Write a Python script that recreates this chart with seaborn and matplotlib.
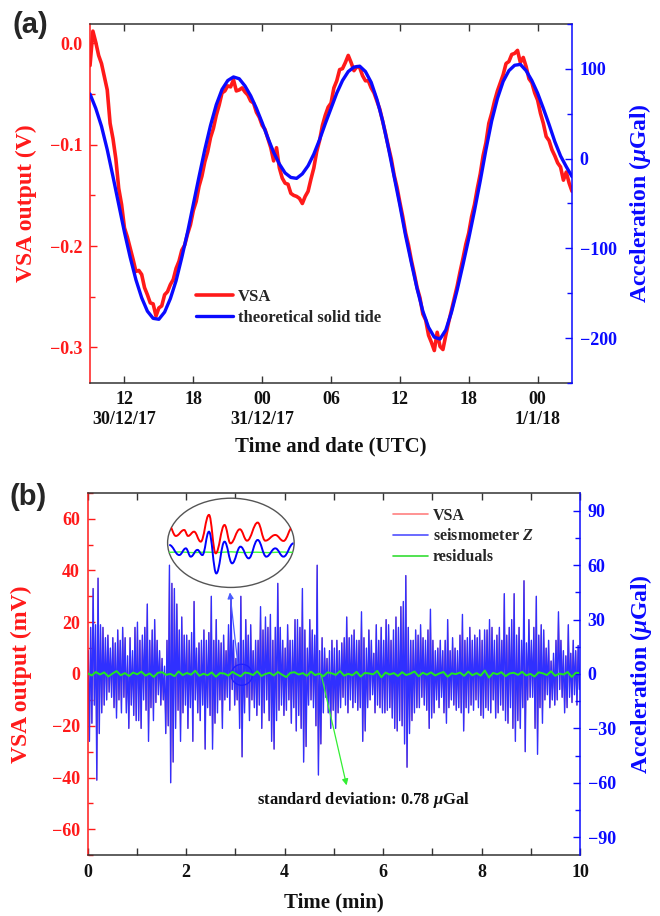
import numpy as np
import matplotlib
matplotlib.use('Agg')
import matplotlib.pyplot as plt
import seaborn as sns
from matplotlib.ticker import MultipleLocator, FuncFormatter
from matplotlib.patches import Ellipse, PathPatch
from matplotlib.path import Path
from matplotlib.lines import Line2D

# ---- (a) tide record, hours counted from 30/12/17 00:00 UTC ----
tide_hours = np.arange(9.0, 51.001, 0.5)
tide_ugal = [72, 56, 36, 10, -20, -51, -82, -110, -135, -155, -170, -178, -179,
             -171, -156, -136, -110, -82, -51, -20, 10, 37, 60, 77, 87, 91,
             89, 81, 70, 56, 40, 23, 7, -6, -16, -21, -22, -17, -8, 5, 21, 39,
             56, 73, 87, 97, 102, 103, 97, 85, 66, 42, 12, -20, -52, -86, -116,
             -145, -170, -188, -199, -201, -191, -171, -146, -118, -89, -58,
             -25, 10, 42, 67, 86, 98, 104, 105, 98, 87, 73, 56, 38, 19, 3, -9, -20]

vsa_hours = np.arange(9.0, 51.001, 0.25)
vsa_volt = [-0.022, 0.012, 0.001, -0.012, -0.020, -0.033, -0.046, -0.079, -0.094,
            -0.114, -0.143, -0.159, -0.182, -0.191, -0.202, -0.213, -0.225, -0.224,
            -0.228, -0.241, -0.248, -0.256, -0.257, -0.269, -0.261, -0.259, -0.248,
            -0.245, -0.238, -0.233, -0.222, -0.215, -0.204, -0.199, -0.188, -0.179,
            -0.165, -0.156, -0.141, -0.131, -0.117, -0.107, -0.093, -0.084, -0.071,
            -0.061, -0.049, -0.047, -0.042, -0.043, -0.036, -0.047, -0.046, -0.044,
            -0.048, -0.051, -0.057, -0.059, -0.068, -0.073, -0.081, -0.085, -0.094,
            -0.103, -0.116, -0.103, -0.123, -0.133, -0.138, -0.139, -0.148, -0.150,
            -0.151, -0.153, -0.158, -0.151, -0.146, -0.134, -0.123, -0.107, -0.096,
            -0.081, -0.071, -0.063, -0.059, -0.044, -0.037, -0.026, -0.025, -0.019,
            -0.012, -0.019, -0.027, -0.023, -0.024, -0.032, -0.037, -0.037, -0.044,
            -0.049, -0.057, -0.065, -0.077, -0.089, -0.102, -0.114, -0.130, -0.142,
            -0.157, -0.171, -0.187, -0.199, -0.214, -0.227, -0.241, -0.251, -0.267,
            -0.273, -0.288, -0.295, -0.303, -0.285, -0.299, -0.302, -0.288, -0.275,
            -0.263, -0.251, -0.239, -0.225, -0.212, -0.198, -0.187, -0.171, -0.159,
            -0.143, -0.129, -0.111, -0.098, -0.079, -0.069, -0.057, -0.047, -0.039,
            -0.031, -0.020, -0.018, -0.011, -0.010, -0.007, -0.019, -0.014, -0.023,
            -0.035, -0.039, -0.049, -0.056, -0.069, -0.079, -0.092, -0.096, -0.105,
            -0.111, -0.118, -0.122, -0.135, -0.127, -0.138, -0.146]

date_ticks = [12, 18, 24, 30, 36, 42, 48]
date_labels = ['12\n30/12/17', '18', '00\n31/12/17', '06', '12', '18', '00\n1/1/18']

# ---- (b) 10 min record, one peak and one trough per cycle (mV) ----
peaks_mv = [9, 18, 33, 19, 37, 19, 18, 14, 15, 10,
            14, 12, 17, 13, 18, 14, 7, 14, 9, 18,
            20, 13, 15, 18, 27, 13, 17, 21, 13, 9,
            6, 3, 13, 42, 35, 33, 27, 17, 22, 15,
            15, 13, 16, 28, 10, 12, 13, 17, 13, 16,
            30, 13, 21, 13, 12, 15, 9, 19, 29, 13,
            6, 12, 30, 13, 21, 15, 19, 9, 13, 13,
            26, 17, 22, 18, 23, 13, 18, 35, 18, 13,
            10, 19, 13, 13, 21, 21, 18, 33, 17, 10,
            21, 17, 15, 42, 9, 14, 10, 6, 9, 13,
            10, 13, 9, 12, 14, 22, 14, 15, 17, 13,
            13, 24, 14, 10, 17, 13, 8, 19, 13, 18,
            13, 21, 19, 13, 17, 22, 18, 26, 28, 38,
            18, 13, 13, 17, 15, 19, 14, 13, 17, 25,
            13, 9, 10, 13, 9, 13, 21, 9, 14, 10,
            9, 15, 23, 13, 14, 18, 13, 15, 14, 17,
            13, 17, 17, 21, 18, 13, 15, 18, 13, 31,
            15, 18, 21, 31, 15, 18, 13, 36, 12, 21,
            13, 18, 30, 15, 19, 17, 10, 13, 5, 8,
            13, 24, 13, 9, 7, 19, 8, 13, 9, 11]
troughs_mv = [-26, -19, -12, -41, -23, -15, -12, -10, -7, -9,
              -13, -17, -10, -15, -9, -15, -21, -12, -16, -18,
              -18, -21, -10, -14, -26, -13, -18, -11, -8, -12,
              -10, -23, -20, -42, -34, -21, -14, -26, -15, -12,
              -21, -13, -26, -10, -15, -18, -12, -29, -13, -16,
              -29, -19, -15, -10, -21, -10, -9, -14, -6, -12,
              -10, -21, -32, -15, -9, -18, -10, -13, -16, -12,
              -21, -15, -10, -18, -26, -29, -18, -14, -12, -16,
              -14, -10, -19, -13, -22, -16, -21, -34, -28, -12,
              -10, -13, -20, -39, -27, -15, -9, -15, -21, -14,
              -21, -15, -13, -9, -12, -15, -10, -13, -11, -14,
              -13, -26, -22, -13, -10, -8, -15, -12, -13, -15,
              -15, -14, -13, -17, -21, -22, -18, -20, -27, -36,
              -23, -18, -15, -13, -13, -9, -12, -14, -21, -17,
              -15, -10, -13, -9, -15, -19, -13, -10, -12, -14,
              -13, -15, -22, -13, -15, -12, -14, -10, -13, -16,
              -17, -13, -14, -15, -10, -17, -15, -12, -14, -18,
              -19, -13, -21, -26, -18, -21, -13, -30, -10, -9,
              -9, -21, -31, -13, -19, -10, -8, -13, -10, -12,
              -10, -6, -9, -15, -13, -9, -11, -8, -12, -6]
residuals_ugal = [0.4, -0.8, 1.1, -0.3, 0.9, -1.4, 0.2, 1.6, -0.7, 0.5, -1.1, 0.8,
                  -0.2, 1.3, -0.9, 0.3, -1.6, 0.7, 1.0, -0.5, 0.1, -1.2, 1.4, -0.6,
                  0.6, -0.4, 1.8, -1.0, 0.2, -0.7, 0.9, -1.5, 0.5, 0.3, -0.9, 1.2,
                  -0.2, -1.3, 0.8, 0.4, -0.6, 1.5, -1.1, 0.0, 0.7, -0.8, 1.1, -0.4,
                  -1.7, 0.6, 1.0, -0.3, 0.5, -1.0, 1.3, -0.6, 0.2, -1.2, 0.9, 0.4,
                  -0.5, 1.6, -0.9, 0.1, -0.7, 1.2, -1.4, 0.6, 0.3, -0.2, 1.7, -1.8,
                  0.8, -0.3, 0.5, -1.1, 1.0, -0.6, 0.2, 1.4, -1.3, 0.7, -0.4, 0.9,
                  -0.8, 0.3, 1.1, -1.5, 0.4, -0.1, 0.8, -1.0, 1.3, -0.7, 0.5, -0.9,
                  1.9, -2.0, 0.6, -0.2, 1.0, -1.2, 0.3, 0.7, -0.5, 1.2, -0.8, 0.1,
                  -1.4, 0.9, 0.4, -0.6, 1.5, -1.0, 0.2, -0.3, 1.1, -1.6, 0.7, 0.5]

# zoomed waveforms inside the ellipse (turning points, ellipse units 0..1)
inset_red_u = [0.013, 0.065, 0.131, 0.162, 0.209, 0.262, 0.327, 0.380, 0.450,
               0.497, 0.571, 0.628, 0.712, 0.772, 0.851, 0.916, 0.990]
inset_red_v = [0.690, 0.577, 0.644, 0.577, 0.625, 0.513, 0.813, 0.382, 0.700,
               0.494, 0.652, 0.524, 0.727, 0.524, 0.588, 0.521, 0.680]
inset_blue_u = [0.013, 0.092, 0.144, 0.183, 0.236, 0.275, 0.327, 0.385, 0.450,
                0.510, 0.576, 0.641, 0.712, 0.780, 0.851, 0.916, 0.995]
inset_blue_v = [0.476, 0.363, 0.438, 0.345, 0.421, 0.363, 0.625, 0.157, 0.513,
                0.270, 0.457, 0.326, 0.532, 0.345, 0.438, 0.345, 0.494]
inset_green_u = [0.0, 0.1, 0.2, 0.3, 0.4, 0.5, 0.6, 0.7, 0.8, 0.9, 1.0]
inset_green_v = [0.393, 0.398, 0.390, 0.396, 0.392, 0.399, 0.391, 0.395, 0.390, 0.397, 0.393]

RED = '#ff1a1a'
BLUE = '#0a0aff'
GREEN = '#22e622'
DARK = '#333333'

sns.set_style('ticks')
plt.rcParams['font.family'] = ['Liberation Serif', 'DejaVu Serif']
plt.rcParams['font.weight'] = 'bold'
plt.rcParams['axes.labelweight'] = 'bold'
plt.rcParams['mathtext.fontset'] = 'custom'
plt.rcParams['mathtext.rm'] = 'Liberation Serif:bold'
plt.rcParams['mathtext.it'] = 'Liberation Serif:italic:bold'
plt.rcParams['mathtext.bf'] = 'Liberation Serif:bold'


def minus(fmt):
    def f(v, pos):
        s = fmt.format(v)
        if s.startswith('-') and float(s) == 0:
            s = s[1:]
        return s.replace('-', '\u2212')
    return FuncFormatter(f)


def style_twin(ax_l, ax_r, lcol, rcol):
    for sp in ['top', 'bottom']:
        ax_l.spines[sp].set_color(DARK)
        ax_l.spines[sp].set_linewidth(1.1)
        ax_r.spines[sp].set_visible(False)
    ax_l.spines['left'].set_color(lcol)
    ax_l.spines['left'].set_linewidth(1.1)
    ax_l.spines['right'].set_visible(False)
    ax_r.spines['left'].set_visible(False)
    ax_r.spines['right'].set_color(rcol)
    ax_r.spines['right'].set_linewidth(1.1)
    ax_l.tick_params(axis='y', which='both', direction='in', colors=lcol,
                     labelsize=13, pad=5.5, right=False)
    ax_r.tick_params(axis='y', which='both', direction='in', colors=rcol,
                     labelsize=13, pad=5.5)
    ax_l.tick_params(axis='x', which='both', direction='in', top=True,
                     colors=DARK, labelcolor='#111111', labelsize=13, pad=6)
    for a in (ax_l, ax_r):
        a.tick_params(which='major', length=5, width=1)
        a.tick_params(which='minor', length=3.5, width=1)


fig = plt.figure(figsize=(6.6, 9.16), dpi=100)

# ---------------- panel (a) ----------------
ax1 = fig.add_axes([0.1364, 0.5819, 0.7303, 0.3919])
ax2 = ax1.twinx()
sns.lineplot(x=vsa_hours, y=vsa_volt, ax=ax1, color=RED, linewidth=2.6,
             estimator=None, sort=False, legend=False)
sns.lineplot(x=tide_hours, y=tide_ugal, ax=ax2, color=BLUE, linewidth=2.4,
             estimator=None, sort=False, legend=False)
ax1.set_xlim(9, 51)
ax1.set_ylim(-0.335, 0.019)
ax2.set_ylim(-250, 150)
ax1.set_xticks(date_ticks, date_labels)
ax1.yaxis.set_major_locator(MultipleLocator(0.1))
ax1.yaxis.set_minor_locator(MultipleLocator(0.05))
ax1.yaxis.set_major_formatter(minus('{:.1f}'))
ax2.yaxis.set_major_locator(MultipleLocator(100))
ax2.yaxis.set_minor_locator(MultipleLocator(50))
ax2.yaxis.set_major_formatter(minus('{:.0f}'))
style_twin(ax1, ax2, RED, BLUE)

ax1.set_xlabel('Time and date (UTC)', fontsize=15, fontweight='bold', color='#111111')
ax1.xaxis.set_label_coords(0.5, -0.150)
ax1.set_ylabel('VSA output (V)', fontsize=17, fontweight='bold', color=RED)
ax1.yaxis.set_label_coords(-0.110, 0.5)
ax2.set_ylabel('Acceleration ($\\mu$Gal)', fontsize=17, fontweight='bold', color=BLUE)
ax2.yaxis.set_label_coords(1.114, 0.5)

ax2.legend([ax1.lines[0], ax2.lines[0]], ['VSA', 'theoretical solid tide'],
           loc='upper left', bbox_to_anchor=(0.22, 0.262), frameon=False,
           fontsize=12, handlelength=2.2, handletextpad=0.3, borderpad=0,
           borderaxespad=0, labelspacing=0.3)

fig.text(30 / 660, 1 - 25 / 916, '(a)', fontfamily='Liberation Sans',
         fontweight='bold', fontsize=21, ha='center', va='center')

# ---------------- panel (b) ----------------
ax3 = fig.add_axes([0.1327, 0.0663, 0.7461, 0.3958])
ax4 = ax3.twinx()

cycle = 10.0 / len(peaks_mv)
t_peak = (np.arange(len(peaks_mv)) + 0.25) * cycle
times = np.empty(2 * len(peaks_mv))
times[0::2] = t_peak
times[1::2] = t_peak + 0.5 * cycle
signal = np.empty(2 * len(peaks_mv))
signal[0::2] = peaks_mv
signal[1::2] = troughs_mv

# VSA drawn underneath, seismometer on top (they coincide at this scale)
sns.lineplot(x=times, y=signal, ax=ax3, color='#ff2020', linewidth=0.6,
             estimator=None, sort=False, legend=False)
sns.lineplot(x=times, y=signal, ax=ax3, color='#3030ff', linewidth=1.0,
             estimator=None, sort=False, legend=False)
sns.lineplot(x=np.linspace(0, 10, len(residuals_ugal)), y=residuals_ugal, ax=ax4,
             color=GREEN, linewidth=1.4, estimator=None, sort=False, legend=False)

ax3.set_xlim(0, 10)
ax3.set_ylim(-70, 70)
ax4.set_ylim(-100, 100)
ax3.xaxis.set_major_locator(MultipleLocator(2))
ax3.xaxis.set_minor_locator(MultipleLocator(1))
ax3.yaxis.set_major_locator(MultipleLocator(20))
ax3.yaxis.set_minor_locator(MultipleLocator(10))
ax3.yaxis.set_major_formatter(minus('{:.0f}'))
ax4.yaxis.set_major_locator(MultipleLocator(30))
ax4.yaxis.set_minor_locator(MultipleLocator(15))
ax4.yaxis.set_major_formatter(minus('{:.0f}'))
style_twin(ax3, ax4, RED, BLUE)
ax3.tick_params(axis='x', which='minor', length=5)

ax3.set_xlabel('Time (min)', fontsize=15, fontweight='bold', color='#111111')
ax3.xaxis.set_label_coords(0.5, -0.104)
ax3.set_ylabel('VSA output (mV)', fontsize=17, fontweight='bold', color=RED)
ax3.yaxis.set_label_coords(-0.112, 0.5)
ax4.set_ylabel('Acceleration ($\\mu$Gal)', fontsize=17, fontweight='bold', color=BLUE)
ax4.yaxis.set_label_coords(1.098, 0.5)

ax3.add_patch(Ellipse((3.13, -0.3), 0.43, 8.1, fill=False, edgecolor='#2020ff',
                      linewidth=1.0, zorder=6))
ax3.annotate('', xy=(2.89, 31.5), xytext=(3.05, 4.0), zorder=6,
             arrowprops=dict(arrowstyle='-|>', color='#4a5cff', lw=0.9,
                             mutation_scale=9, shrinkA=0, shrinkB=0))
ax3.annotate('', xy=(5.26, -43), xytext=(4.75, -0.7), zorder=6,
             arrowprops=dict(arrowstyle='-|>', color='#33ee33', lw=0.9,
                             mutation_scale=9, shrinkA=0, shrinkB=0))
ax3.text(5.60, -48.6, 'standard deviation: 0.78 $\\mu$Gal', ha='center',
         va='center', fontsize=12, color='#111111', zorder=6)

leg_handles = [Line2D([], [], color='#ff8080', lw=1.2),
               Line2D([], [], color='#5050ff', lw=1.2),
               Line2D([], [], color='#33dd33', lw=1.2)]
ax4.legend(leg_handles, ['VSA', 'seismometer $Z$', 'residuals'], loc='upper left',
           bbox_to_anchor=(0.6205, 0.9587), frameon=False, fontsize=11.5,
           handlelength=2.2, handletextpad=0.3, borderpad=0, borderaxespad=0,
           labelspacing=0.3)

fig.text(28 / 660, 1 - 497 / 916, '(b)', fontfamily='Liberation Sans',
         fontweight='bold', fontsize=21, ha='center', va='center')

# ---------------- ellipse inset ----------------
axi = fig.add_axes([0.2541 - 0.004, 0.3588 - 0.004, 0.1914 + 0.008, 0.0972 + 0.008])
axi.set_xlim(-0.02, 1.02)
axi.set_ylim(-0.04, 1.04)
axi.axis('off')
ell = Ellipse((0.5, 0.5), 1.0, 1.0, facecolor='white', edgecolor='#555555',
              linewidth=1.0, clip_on=False, zorder=1)
axi.add_patch(ell)


def smooth_path(us, vs):
    verts = [(us[0], vs[0])]
    codes = [Path.MOVETO]
    for u0, v0, u1, v1 in zip(us[:-1], vs[:-1], us[1:], vs[1:]):
        du = (u1 - u0) * 0.4
        verts += [(u0 + du, v0), (u1 - du, v1), (u1, v1)]
        codes += [Path.CURVE4] * 3
    return Path(verts, codes)


for us, vs, col in [(inset_red_u, inset_red_v, '#ff0000'),
                    (inset_blue_u, inset_blue_v, '#0000ff')]:
    pp = PathPatch(smooth_path(us, vs), facecolor='none', edgecolor=col,
                   linewidth=1.4, zorder=3)
    axi.add_patch(pp)
    pp.set_clip_path(ell)
gl, = axi.plot(inset_green_u, inset_green_v, color='#33ff33', linewidth=1.0, zorder=2)
gl.set_clip_path(ell)

fig.savefig('out.png', dpi=100)
